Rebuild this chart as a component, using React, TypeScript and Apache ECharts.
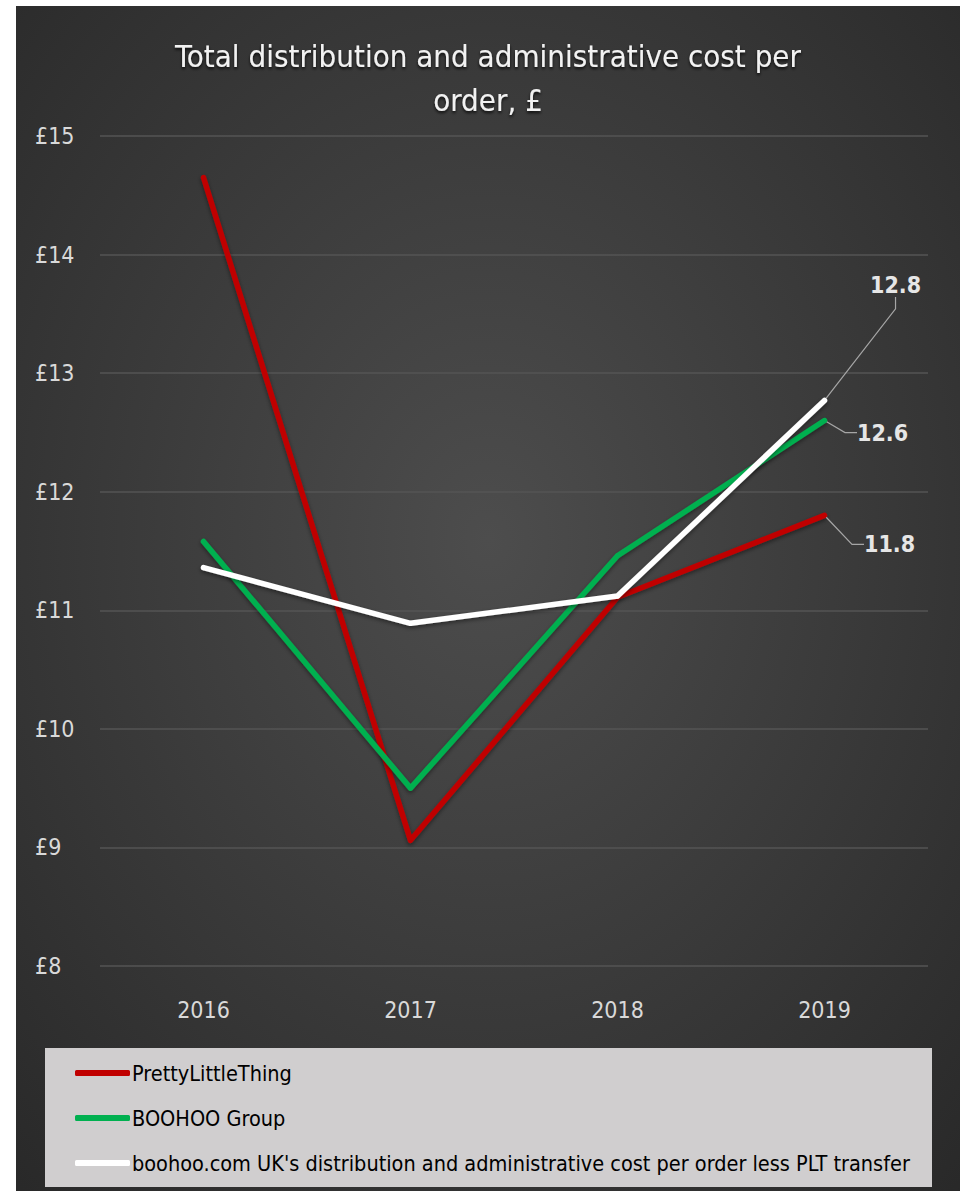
import React, { useEffect, useRef } from "react";
import * as echarts from "echarts";

const years = ["2016", "2017", "2018", "2019"];
const pltValues = [14.65, 9.06, 11.11, 11.8];
const groupValues = [11.58, 9.5, 11.46, 12.6];
const ukValues = [11.36, 10.89, 11.12, 12.77];
const seriesNames = [
  "PrettyLittleThing",
  "BOOHOO Group",
  "boohoo.com UK's distribution and administrative cost per order less PLT transfer",
];
const lastLabels = ["11.8", "12.6", "12.8"];
const yTicks = [8, 9, 10, 11, 12, 13, 14, 15];
const titleText = "Total distribution and administrative cost per\norder, £";

const FONT = "'Liberation Sans Narrow', 'DejaVu Sans Condensed', 'Roboto', sans-serif";

export default function App() {
  const ref = useRef<HTMLDivElement>(null);
  useEffect(() => {
    if (!ref.current) return;
    const chart = echarts.init(ref.current, undefined, { renderer: "svg" });
    const colors = ["#c00000", "#00b050", "#ffffff"];
    const valueSets = [pltValues, groupValues, ukValues];
    const layouts = [
      { dx: 32, dy: 29 },
      { dx: 25, dy: 12 },
      { dx: 38, dy: -115 },
    ];
    const zs = [3, 4, 5];
    const series = valueSets.map((vals, si) => ({
      name: seriesNames[si],
      type: "line",
      z: zs[si],
      data: vals.map((v, i) =>
        i === vals.length - 1
          ? {
              value: v,
              label: {
                show: true,
                formatter: lastLabels[si],
                position: "right",
                distance: 5,
                color: "#e6e6e6",
                fontFamily: FONT,
                fontWeight: "bold",
                fontSize: 23,
              },
              labelLine: {
                show: true,
                length2: 12,
                lineStyle: { color: "#a6a6a6", width: 1.2 },
              },
            }
          : v
      ),
      symbol: "circle",
      symbolSize: 5,
      showSymbol: true,
      itemStyle: { color: colors[si] },
      lineStyle: {
        color: colors[si],
        width: 5.5,
        cap: "round",
        join: "round",
        shadowColor: "rgba(0,0,0,0.45)",
        shadowBlur: 4,
        shadowOffsetY: 2,
      },
      labelLayout: { dx: layouts[si].dx, dy: layouts[si].dy },
      emphasis: { disabled: true },
    }));

    chart.setOption({
      animation: false,
      backgroundColor: {
        type: "radial",
        x: 0.5,
        y: 0.45,
        r: 0.8,
        colorStops: [
          { offset: 0, color: "#4d4d4d" },
          { offset: 1, color: "#262626" },
        ],
      },
      title: {
        text: titleText,
        left: "center",
        top: 23,
        textStyle: {
          color: "#f2f2f2",
          fontFamily: FONT,
          fontWeight: "normal",
          fontSize: 31,
          lineHeight: 44,
          textShadowColor: "rgba(0,0,0,0.8)",
          textShadowBlur: 3,
          textShadowOffsetY: 2,
        },
      },
      grid: { left: 84, right: 32, top: 130, bottom: 225, containLabel: false },
      xAxis: {
        type: "category",
        data: years,
        boundaryGap: true,
        axisLine: { show: false },
        axisTick: { show: false },
        axisLabel: { color: "#d9d9d9", fontFamily: FONT, fontSize: 23, margin: 32 },
      },
      yAxis: {
        type: "value",
        min: yTicks[0],
        max: yTicks[yTicks.length - 1],
        interval: 1,
        axisLine: { show: false },
        axisTick: { show: false },
        splitLine: { lineStyle: { color: "#555555", width: 1.5 } },
        axisLabel: {
          color: "#d9d9d9",
          fontFamily: FONT,
          fontSize: 23,
          align: "left",
          margin: 65,
          formatter: (v: number) => "£" + v,
        },
      },
      graphic: [
        {
          type: "rect",
          z: 1,
          shape: { x: 29, y: 1042, width: 887, height: 139 },
          style: { fill: "#d0cecf" },
        },
      ],
      legend: {
        orient: "vertical",
        left: 59,
        top: 1053,
        z: 10,
        padding: 0,
        itemGap: 17,
        itemWidth: 55,
        itemHeight: 6,
        icon: "roundRect",
        data: seriesNames.map((n, i) => ({ name: n, itemStyle: { color: colors[i] } })),
        textStyle: {
          color: "#000000",
          fontFamily: FONT,
          fontSize: 21.5,
          lineHeight: 28,
          padding: [0, 0, 0, -3],
        },
        selectedMode: false,
      },
      series,
    });
    return () => chart.dispose();
  }, []);
  return (
    <div
      ref={ref}
      style={{ position: "absolute", left: 16, top: 6, width: 944, height: 1185 }}
    />
  );
}
